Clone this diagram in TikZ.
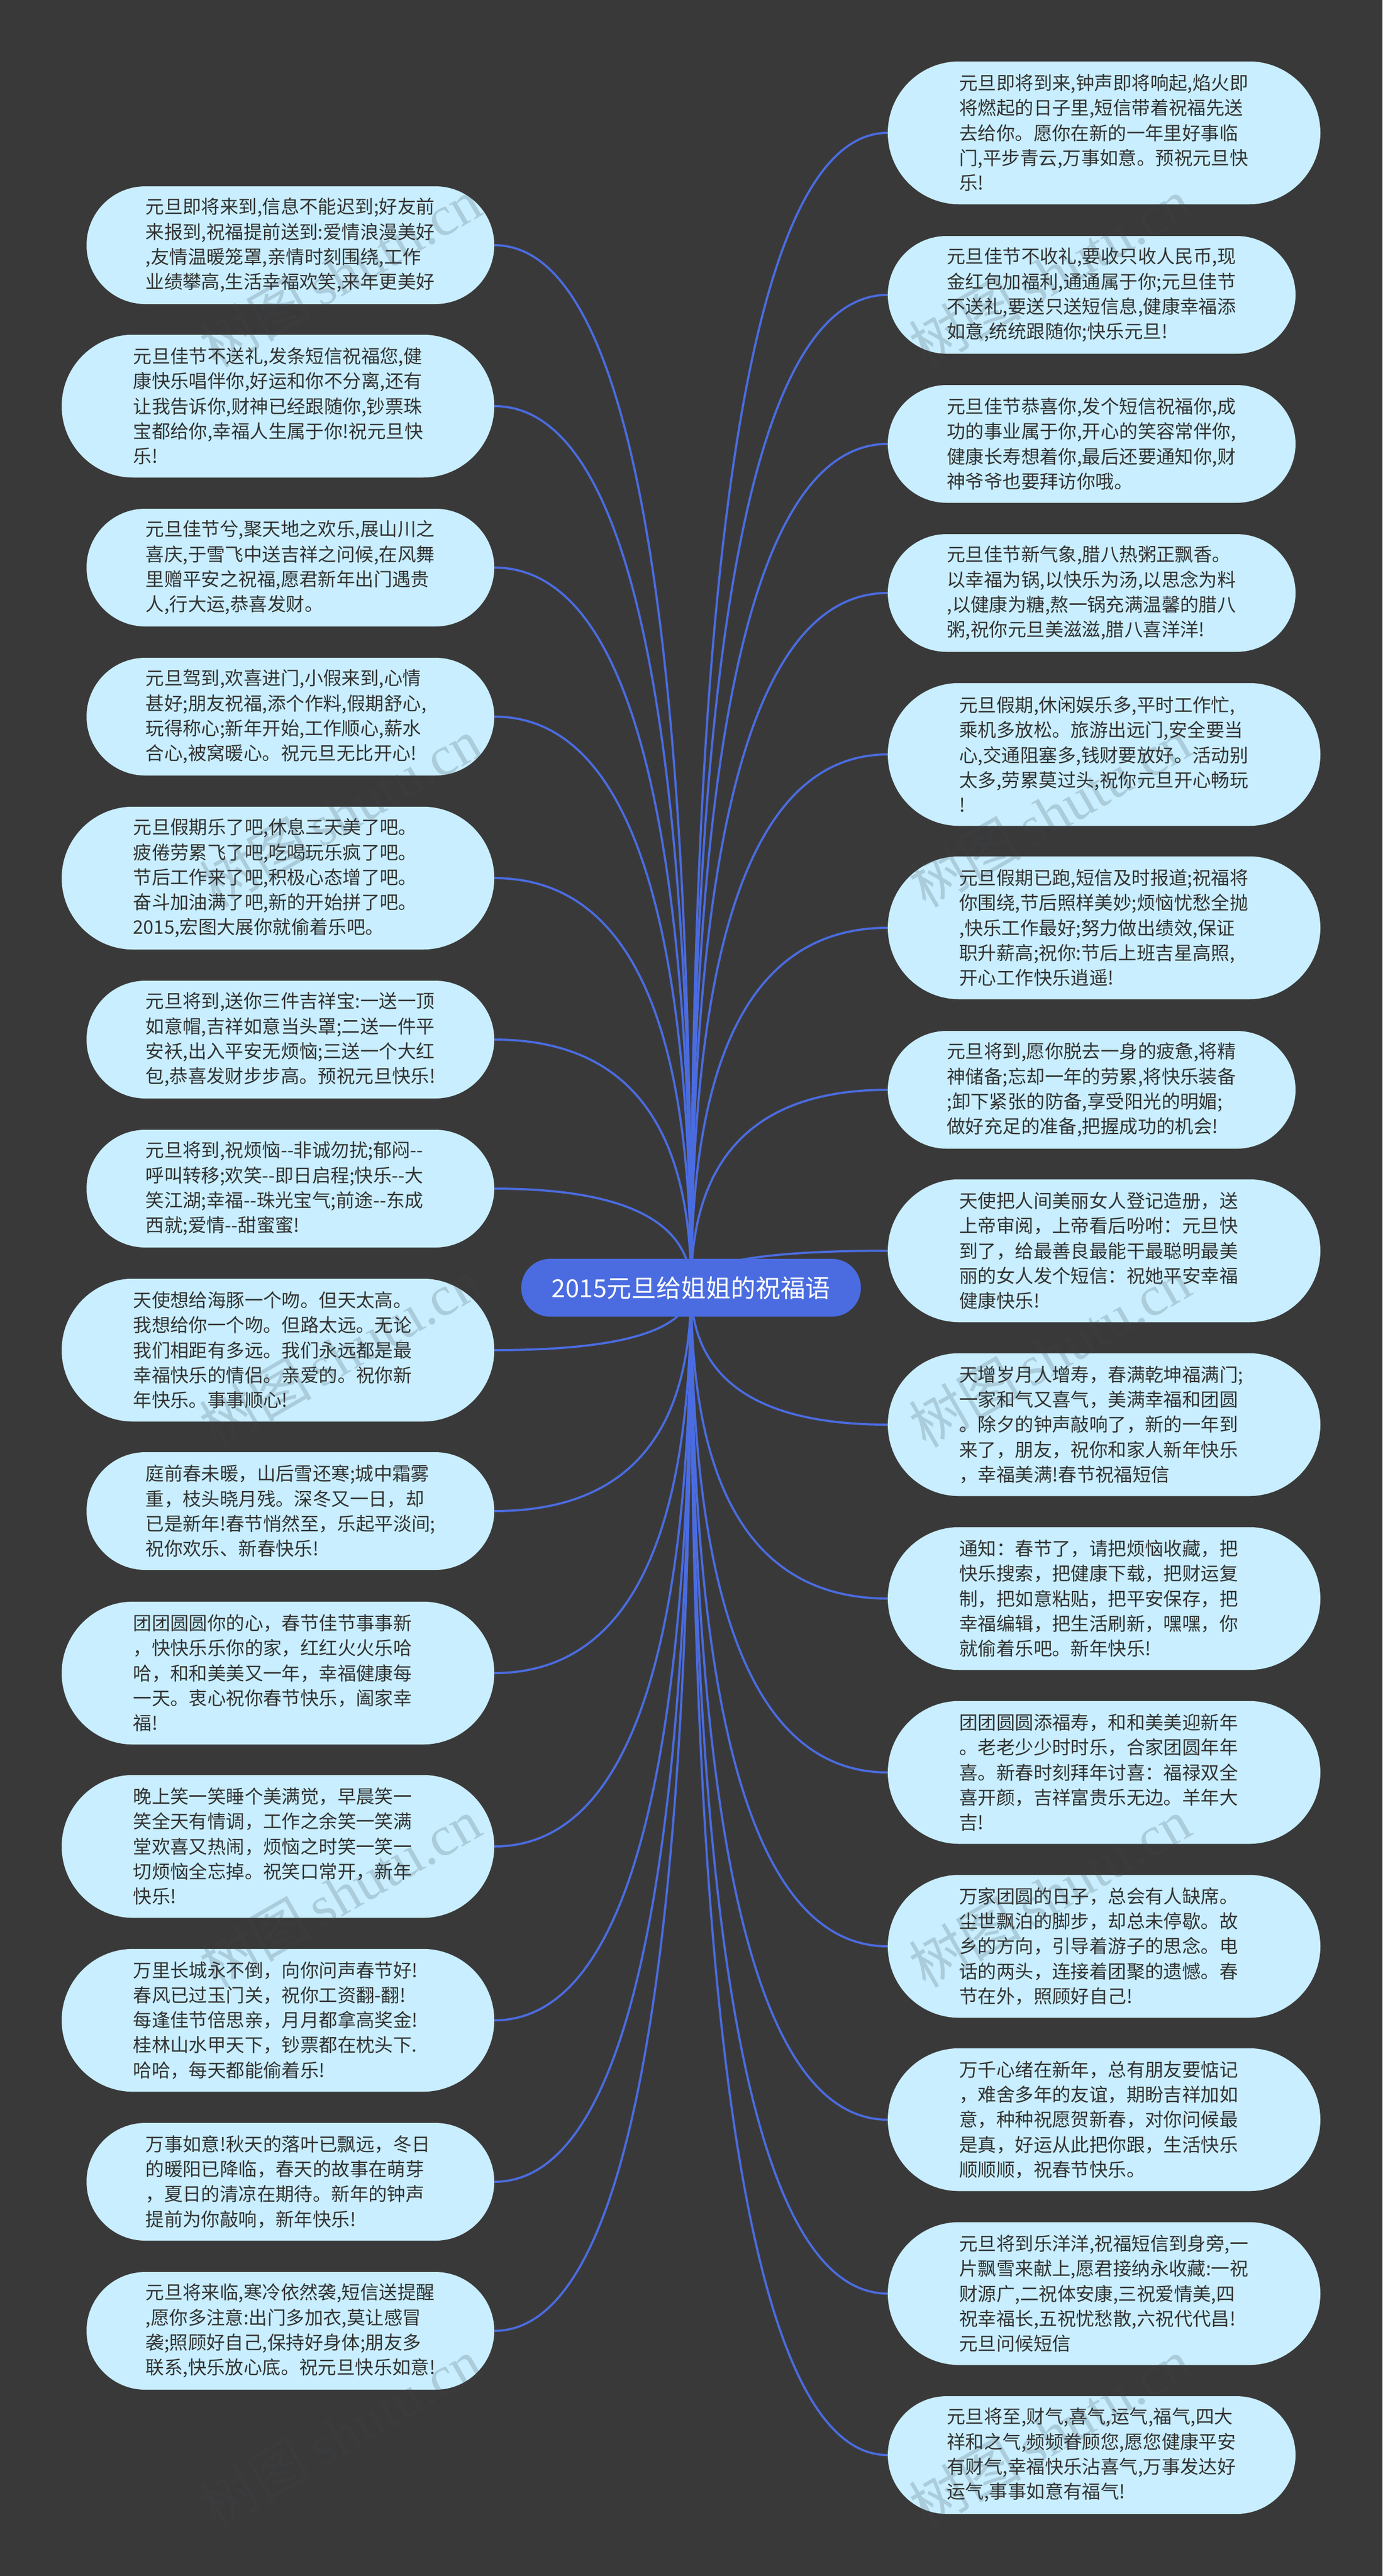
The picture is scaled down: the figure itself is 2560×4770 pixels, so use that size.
\documentclass[tikz,border=0pt]{standalone}
\usepackage{fontspec}
\usetikzlibrary{calc,backgrounds}
\newfontfamily\cjkfont{Noto Sans CJK SC}
\newfontfamily\wmlatin{Liberation Serif}
\def\qc{^^^^ff0c}
\def\qd{^^^^ff1a}
\definecolor{bgdark}{HTML}{3A393A}
\definecolor{pillfill}{HTML}{C8EEFF}
\definecolor{linkblue}{HTML}{4A6CE0}
\definecolor{inkdark}{HTML}{333333}
\definecolor{wmcolor}{HTML}{3A4448}
\tikzset{
  pill/.style={shape=rectangle,fill=pillfill,text=inkdark,inner sep=0pt,text width=536pt,align=left,
    font=\cjkfont\fontsize{34.4pt}{46.3pt}\selectfont},
  widepill/.style={pill,minimum width=801pt},
  narrowpill/.style={pill,minimum width=755pt},
  fourline/.style={minimum height=218pt,rounded corners=108.9pt},
  fiveline/.style={minimum height=264.5pt,rounded corners=132.2pt},
  hub/.style={shape=rectangle,fill=linkblue,text=white,inner sep=0pt,minimum width=629pt,minimum height=107pt,
    rounded corners=53.4pt,font=\cjkfont\fontsize{46pt}{50pt}\selectfont},
  link/.style={draw=linkblue,line width=4pt},
  wmark/.style={text=wmcolor,opacity=.2,text opacity=.2,rotate=30,inner sep=0pt,font=\fontsize{104pt}{110pt}\selectfont}
}
\begin{document}
\begin{tikzpicture}[x=1pt,y=-1pt]
\useasboundingbox (0,0) rectangle (2560,4770);
% centre
\node[hub] (ctr) at (1279.7,2384.5) {2015元旦给姐姐的祝福语};
% left column
\node[narrowpill,fourline] (l1) at (537.75,454) {元旦即将来到,信息不能迟到;好友前\\来报到,祝福提前送到:爱情浪漫美好\\,友情温暖笼罩,亲情时刻围绕,工作\\业绩攀高,生活幸福欢笑,来年更美好};
\node[widepill,fiveline] (l2) at (514.75,752) {元旦佳节不送礼,发条短信祝福您,健\\康快乐唱伴你,好运和你不分离,还有\\让我告诉你,财神已经跟随你,钞票珠\\宝都给你,幸福人生属于你!祝元旦快\\乐!};
\node[narrowpill,fourline] (l3) at (537.75,1051) {元旦佳节兮,聚天地之欢乐,展山川之\\喜庆,于雪飞中送吉祥之问候,在风舞\\里赠平安之祝福,愿君新年出门遇贵\\人,行大运,恭喜发财。};
\node[narrowpill,fourline] (l4) at (537.75,1327) {元旦驾到,欢喜进门,小假来到,心情\\甚好;朋友祝福,添个作料,假期舒心,\\玩得称心;新年开始,工作顺心,薪水\\合心,被窝暖心。祝元旦无比开心!};
\node[widepill,fiveline] (l5) at (514.75,1626) {元旦假期乐了吧,休息三天美了吧。\\疲倦劳累飞了吧,吃喝玩乐疯了吧。\\节后工作来了吧,积极心态增了吧。\\奋斗加油满了吧,新的开始拼了吧。\\2015,宏图大展你就偷着乐吧。};
\node[narrowpill,fourline] (l6) at (537.75,1925) {元旦将到,送你三件吉祥宝:一送一顶\\如意帽,吉祥如意当头罩;二送一件平\\安袄,出入平安无烦恼;三送一个大红\\包,恭喜发财步步高。预祝元旦快乐!};
\node[narrowpill,fourline] (l7) at (537.75,2201) {元旦将到,祝烦恼--非诚勿扰;郁闷--\\呼叫转移;欢笑--即日启程;快乐--大\\笑江湖;幸福--珠光宝气;前途--东成\\西就;爱情--甜蜜蜜!};
\node[widepill,fiveline] (l8) at (514.75,2500) {天使想给海豚一个吻。但天太高。\\我想给你一个吻。但路太远。无论\\我们相距有多远。我们永远都是最\\幸福快乐的情侣。亲爱的。祝你新\\年快乐。事事顺心!};
\node[narrowpill,fourline] (l9) at (537.75,2798) {庭前春未暖\qc{}山后雪还寒;城中霜雾\\重\qc{}枝头晓月残。深冬又一日\qc{}却\\已是新年!春节悄然至\qc{}乐起平淡间;\\祝你欢乐、新春快乐!};
\node[widepill,fiveline] (l10) at (514.75,3098) {团团圆圆你的心\qc{}春节佳节事事新\\\qc{}快快乐乐你的家\qc{}红红火火乐哈\\哈\qc{}和和美美又一年\qc{}幸福健康每\\一天。衷心祝你春节快乐\qc{}阖家幸\\福!};
\node[widepill,fiveline] (l11) at (514.75,3419) {晚上笑一笑睡个美满觉\qc{}早晨笑一\\笑全天有情调\qc{}工作之余笑一笑满\\堂欢喜又热闹\qc{}烦恼之时笑一笑一\\切烦恼全忘掉。祝笑口常开\qc{}新年\\快乐!};
\node[widepill,fiveline] (l12) at (514.75,3741) {万里长城永不倒\qc{}向你问声春节好!\\春风已过玉门关\qc{}祝你工资翻-翻!\\每逢佳节倍思亲\qc{}月月都拿高奖金!\\桂林山水甲天下\qc{}钞票都在枕头下.\\哈哈\qc{}每天都能偷着乐!};
\node[narrowpill,fourline] (l13) at (537.75,4040) {万事如意!秋天的落叶已飘远\qc{}冬日\\的暖阳已降临\qc{}春天的故事在萌芽\\\qc{}夏日的清凉在期待。新年的钟声\\提前为你敲响\qc{}新年快乐!};
\node[narrowpill,fourline] (l14) at (537.75,4316) {元旦将来临,寒冷依然袭,短信送提醒\\,愿你多注意:出门多加衣,莫让感冒\\袭;照顾好自己,保持好身体;朋友多\\联系,快乐放心底。祝元旦快乐如意!};
% right column
\node[widepill,fiveline] (r1) at (2044.5,246) {元旦即将到来,钟声即将响起,焰火即\\将燃起的日子里,短信带着祝福先送\\去给你。愿你在新的一年里好事临\\门,平步青云,万事如意。预祝元旦快\\乐!};
\node[narrowpill,fourline] (r2) at (2021.5,546) {元旦佳节不收礼,要收只收人民币,现\\金红包加福利,通通属于你;元旦佳节\\不送礼,要送只送短信息,健康幸福添\\如意,统统跟随你;快乐元旦!};
\node[narrowpill,fourline] (r3) at (2021.5,822) {元旦佳节恭喜你,发个短信祝福你,成\\功的事业属于你,开心的笑容常伴你,\\健康长寿想着你,最后还要通知你,财\\神爷爷也要拜访你哦。};
\node[narrowpill,fourline] (r4) at (2021.5,1098) {元旦佳节新气象,腊八热粥正飘香。\\以幸福为锅,以快乐为汤,以思念为料\\,以健康为糖,熬一锅充满温馨的腊八\\粥,祝你元旦美滋滋,腊八喜洋洋!};
\node[widepill,fiveline] (r5) at (2044.5,1397) {元旦假期,休闲娱乐多,平时工作忙,\\乘机多放松。旅游出远门,安全要当\\心,交通阻塞多,钱财要放好。活动别\\太多,劳累莫过头,祝你元旦开心畅玩\\!};
\node[widepill,fiveline] (r6) at (2044.5,1718) {元旦假期已跑,短信及时报道;祝福将\\你围绕,节后照样美妙;烦恼忧愁全抛\\,快乐工作最好;努力做出绩效,保证\\职升薪高;祝你:节后上班吉星高照,\\开心工作快乐逍遥!};
\node[narrowpill,fourline] (r7) at (2021.5,2018) {元旦将到,愿你脱去一身的疲惫,将精\\神储备;忘却一年的劳累,将快乐装备\\;卸下紧张的防备,享受阳光的明媚;\\做好充足的准备,把握成功的机会!};
\node[widepill,fiveline] (r8) at (2044.5,2316) {天使把人间美丽女人登记造册\qc{}送\\上帝审阅\qc{}上帝看后吩咐\qd{}元旦快\\到了\qc{}给最善良最能干最聪明最美\\丽的女人发个短信\qd{}祝她平安幸福\\健康快乐!};
\node[widepill,fiveline] (r9) at (2044.5,2638) {天增岁月人增寿\qc{}春满乾坤福满门;\\一家和气又喜气\qc{}美满幸福和团圆\\。除夕的钟声敲响了\qc{}新的一年到\\来了\qc{}朋友\qc{}祝你和家人新年快乐\\\qc{}幸福美满!春节祝福短信};
\node[widepill,fiveline] (r10) at (2044.5,2960) {通知\qd{}春节了\qc{}请把烦恼收藏\qc{}把\\快乐搜索\qc{}把健康下载\qc{}把财运复\\制\qc{}把如意粘贴\qc{}把平安保存\qc{}把\\幸福编辑\qc{}把生活刷新\qc{}嘿嘿\qc{}你\\就偷着乐吧。新年快乐!};
\node[widepill,fiveline] (r11) at (2044.5,3282) {团团圆圆添福寿\qc{}和和美美迎新年\\。老老少少时时乐\qc{}合家团圆年年\\喜。新春时刻拜年讨喜\qd{}福禄双全\\喜开颜\qc{}吉祥富贵乐无边。羊年大\\吉!};
\node[widepill,fiveline] (r12) at (2044.5,3604) {万家团圆的日子\qc{}总会有人缺席。\\尘世飘泊的脚步\qc{}却总未停歇。故\\乡的方向\qc{}引导着游子的思念。电\\话的两头\qc{}连接着团聚的遗憾。春\\节在外\qc{}照顾好自己!};
\node[widepill,fiveline] (r13) at (2044.5,3925) {万千心绪在新年\qc{}总有朋友要惦记\\\qc{}难舍多年的友谊\qc{}期盼吉祥加如\\意\qc{}种种祝愿贺新春\qc{}对你问候最\\是真\qc{}好运从此把你跟\qc{}生活快乐\\顺顺顺\qc{}祝春节快乐。};
\node[widepill,fiveline] (r14) at (2044.5,4247) {元旦将到乐洋洋,祝福短信到身旁,一\\片飘雪来献上,愿君接纳永收藏:一祝\\财源广,二祝体安康,三祝爱情美,四\\祝幸福长,五祝忧愁散,六祝代代昌!\\元旦问候短信};
\node[narrowpill,fourline] (r15) at (2021.5,4546) {元旦将至,财气,喜气,运气,福气,四大\\祥和之气,频频眷顾您,愿您健康平安\\有财气,幸福快乐沾喜气,万事发达好\\运气,事事如意有福气!};
% watermarks
\foreach \wy [count=\wi] in {505,1505,2505,3505,4505}{
  \node[wmark] (wml\wi) at (630,\wy) {{\cjkfont 树图}\,{\wmlatin shutu.cn}};
  \node[wmark] (wmr\wi) at (1944,\wy) {{\cjkfont 树图}\,{\wmlatin shutu.cn}};
}
\begin{scope}[on background layer]
  \fill[bgdark] (0,0) rectangle (2560,4770);
  \foreach \k in {1,...,14}{
    \coordinate (bend) at (ctr.center |- l\k.east);
    \draw[link] (ctr.center) .. controls ($(ctr.center)!.667!(bend)$) and ($(l\k.east)!.667!(bend)$) .. (l\k.east);
  }
  \foreach \k in {1,...,15}{
    \coordinate (bend) at (ctr.center |- r\k.west);
    \draw[link] (ctr.center) .. controls ($(ctr.center)!.667!(bend)$) and ($(r\k.west)!.667!(bend)$) .. (r\k.west);
  }
\end{scope}
\end{tikzpicture}
\end{document}
